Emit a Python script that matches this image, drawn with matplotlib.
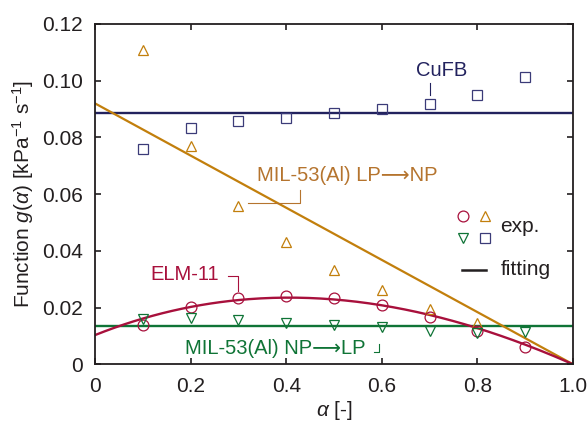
import numpy as np
import matplotlib
matplotlib.use("Agg")
import matplotlib.pyplot as plt

plt.rcParams['font.family'] = ['Liberation Sans', 'DejaVu Sans']
plt.rcParams['mathtext.fontset'] = 'custom'
plt.rcParams['mathtext.rm'] = 'Liberation Sans'
plt.rcParams['mathtext.it'] = 'Liberation Sans:italic'

# conversion alpha of the measured points
alpha = [0.1, 0.2, 0.3, 0.4, 0.5, 0.6, 0.7, 0.8, 0.9]

# experimental g(alpha) values [kPa^-1 s^-1]
g_cufb = [0.0760, 0.0832, 0.0857, 0.0870, 0.0885, 0.0900, 0.0919, 0.0950, 0.1014]
g_lp_np = [0.1110, 0.0770, 0.0558, 0.0432, 0.0333, 0.0262, 0.0194, 0.0147]
g_elm = [0.0139, 0.0203, 0.0233, 0.0242, 0.0235, 0.0208, 0.0168, 0.0117, 0.0060]
g_np_lp = [0.0160, 0.0162, 0.0156, 0.0147, 0.0139, 0.0130, 0.0118, 0.0109, 0.0113]

# fitting results
fit_cufb = 0.0887            # constant
fit_np_lp = 0.0135           # constant
fit_lp_np = [0.092, -0.092]  # linear: c0 + c1*a
fit_elm = [0.0103, 0.06724, -0.09095, 0.01341]  # cubic: c0 + c1*a + c2*a^2 + c3*a^3

c_navy = '#22225e'
c_navy_m = '#3b3b78'
c_gold = '#c27f0c'
c_gold_t = '#b5742e'
c_red = '#a8103c'
c_green = '#0f7436'
c_ink = '#231f20'
fs = 15
fs_ann = 14.5

fig = plt.figure(figsize=(5.88, 4.23), dpi=100)
ax = fig.add_axes([0.1616, 0.1388, 0.8129, 0.8045])

a = np.linspace(0, 1, 200)
ax.plot([0, 1], [fit_cufb, fit_cufb], color=c_navy, lw=1.7, zorder=2)
ax.plot([0, 1], [fit_np_lp, fit_np_lp], color=c_green, lw=1.7, zorder=2)
ax.plot(a, np.polynomial.polynomial.polyval(a, fit_lp_np), color=c_gold, lw=1.6, zorder=2)
ax.plot(a, np.polynomial.polynomial.polyval(a, fit_elm), color=c_red, lw=1.7, zorder=2)

mk = dict(ls='none', mfc='none', ms=7.8, mew=0.9, zorder=3)
ax.plot(alpha, g_cufb, marker='s', mec=c_navy_m, **mk)
ax.plot(alpha[:len(g_lp_np)], g_lp_np, marker='^', mec=c_gold, **mk)
ax.plot(alpha, g_elm, marker='o', mec=c_red, **mk)
ax.plot(alpha, g_np_lp, marker='v', mec=c_green, **mk)

ax.set_xlim(0, 1)
ax.set_ylim(0, 0.12)
ax.set_xticks([0, 0.2, 0.4, 0.6, 0.8, 1.0])
ax.set_xticklabels(['0', '0.2', '0.4', '0.6', '0.8', '1.0'])
ax.set_yticks([0, 0.02, 0.04, 0.06, 0.08, 0.10, 0.12])
ax.set_yticklabels(['0', '0.02', '0.04', '0.06', '0.08', '0.10', '0.12'])
ax.tick_params(direction='in', length=4, width=1.2, top=True, right=True,
               labelsize=fs, colors=c_ink, pad=9)
for s in ax.spines.values():
    s.set_linewidth(1.3)
    s.set_color(c_ink)

ax.set_xlabel(r'$\alpha$ [-]', fontsize=fs, color=c_ink, labelpad=2)
ax.set_ylabel(r'Function $g$($\alpha$) [kPa$^{-1}$ s$^{-1}$]', fontsize=fs,
              color=c_ink, labelpad=4)

# labels with leader lines
ax.text(0.7245, 0.1036, 'CuFB', color=c_navy, fontsize=fs_ann, ha='center', va='center')
ax.plot([0.7, 0.7], [0.0991, 0.0950], color=c_navy, lw=0.8)

ax.text(0.338, 0.0667, 'MIL-53(Al) LP\u27f6NP', color=c_gold_t, fontsize=fs_ann,
        ha='left', va='center')
ax.plot([0.32, 0.428, 0.428], [0.0568, 0.0568, 0.0615], color=c_gold_t, lw=0.8)

ax.text(0.115, 0.0315, 'ELM-11', color=c_red, fontsize=fs_ann, ha='left', va='center')
ax.plot([0.279, 0.3, 0.3], [0.0310, 0.0310, 0.0258], color=c_red, lw=0.8)

ax.text(0.188, 0.0056, 'MIL-53(Al) NP\u27f6LP', color=c_green, fontsize=fs_ann,
        ha='left', va='center')
ax.plot([0.584, 0.595, 0.595], [0.0045, 0.0045, 0.0070], color=c_green, lw=0.8)

# legend drawn by hand
t = ax.transAxes
lk = dict(ls='none', mfc='none', ms=7.8, mew=0.9, transform=t, clip_on=False)
ax.plot([0.770], [0.435], marker='o', mec=c_red, **lk)
ax.plot([0.815], [0.435], marker='^', mec=c_gold, **lk)
ax.plot([0.770], [0.372], marker='v', mec=c_green, **lk)
ax.plot([0.815], [0.372], marker='s', mec=c_navy_m, **lk)
ax.text(0.848, 0.404, 'exp.', transform=t, fontsize=fs, color=c_ink,
        ha='left', va='center')
ax.plot([0.767, 0.819], [0.278, 0.278], color=c_ink, lw=1.8, transform=t)
ax.text(0.848, 0.278, 'fitting', transform=t, fontsize=fs, color=c_ink,
        ha='left', va='center')

fig.savefig('out.png', dpi=100)
